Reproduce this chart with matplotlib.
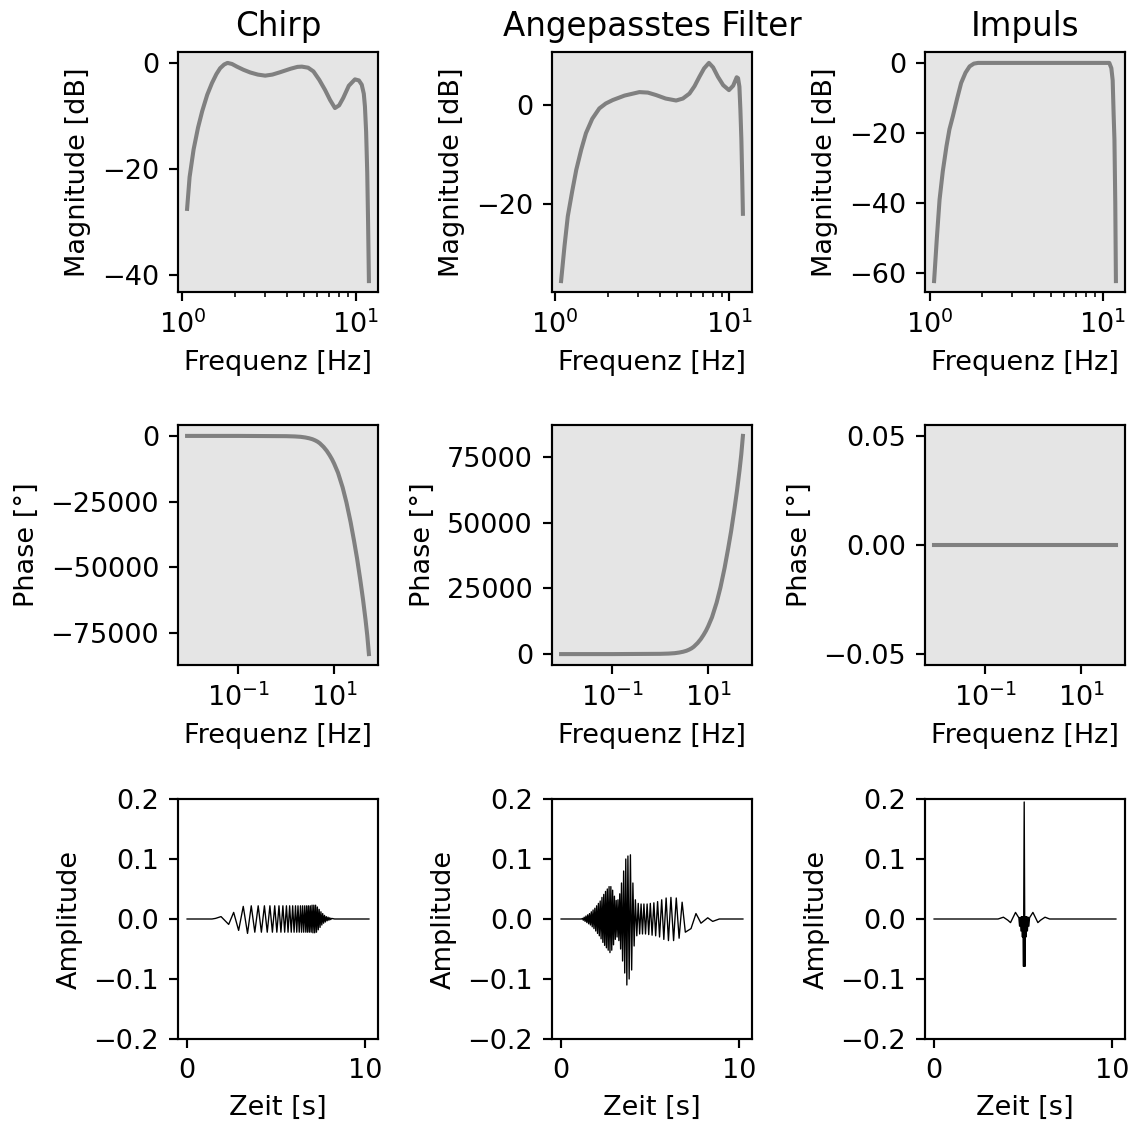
import numpy as np
import matplotlib.pyplot as plt

# --- Betragsgang (Frequenz in Hz, Betrag in dB) ---
f_mag_chirp = [1.064, 1.10, 1.16, 1.23, 1.30, 1.39, 1.48, 1.57, 1.65, 1.74, 1.82, 1.93,
               2.06, 2.25, 2.46, 2.72, 3.0, 3.3, 3.66, 4.2, 4.6, 4.88, 5.3, 5.69, 6.15,
               6.64, 7.1, 7.57, 8.0, 8.45, 9.1, 9.87, 10.4, 10.8, 11.1, 11.27, 11.45,
               11.62, 11.75, 11.88]
mag_chirp = [-27.5, -21.5, -16.3, -12.2, -9.1, -6.0, -3.8, -2.1, -1.0, -0.3, 0.0, -0.2,
             -0.7, -1.3, -1.8, -2.2, -2.4, -2.2, -1.75, -1.1, -0.75, -0.7, -0.9, -1.6, -3.2,
             -5.1, -7.0, -8.5, -8.0, -6.6, -4.3, -3.1, -3.3, -4.1, -5.8, -8.2, -13.0,
             -20.7, -30.0, -41.1]

f_mag_filter = [1.08, 1.13, 1.18, 1.25, 1.32, 1.41, 1.50, 1.63, 1.79, 1.95, 2.14, 2.5,
                3.04, 3.4, 3.79, 4.3, 4.94, 5.4, 5.89, 6.3, 6.72, 7.15, 7.62, 8.05, 8.58,
                9.2, 9.93, 10.5, 11.0, 11.2, 11.4, 11.55, 11.7, 11.82, 11.94]
mag_filter = [-35.6, -28.5, -22.5, -17.5, -13.1, -9.0, -5.7, -2.8, -0.7, 0.3, 1.0, 1.9,
              2.6, 2.5, 2.0, 1.3, 0.9, 1.3, 2.3, 3.8, 5.7, 7.4, 8.5, 7.6, 5.7,
              4.0, 3.0, 3.9, 5.6, 5.4, 3.7, -1.0, -7.0, -14.0, -22.0]

f_mag_impulse = [1.06, 1.10, 1.14, 1.19, 1.25, 1.30, 1.36, 1.44, 1.52, 1.61, 1.70, 1.80,
                 1.90, 10.9, 11.2, 11.4, 11.55, 11.67, 11.8, 11.9]
mag_impulse = [-62.4, -50.0, -39.1, -31.0, -23.8, -19.0, -15.3, -10.2, -5.7, -2.8, -1.0,
               -0.2, 0.0, 0.0, -1.5, -5.0, -15.0, -21.9, -40.0, -62.4]

# --- Phasengang (Frequenz in Hz, Phase in Grad) ---
f_phase = [0.0085, 0.1, 1, 1.5, 2, 2.5, 3, 3.5, 4, 4.5, 5, 6, 7, 8, 9, 10, 12, 15, 18,
           22, 26, 30, 35, 40, 45, 49, 53]
phase_chirp = [0, 0, -100, -200, -350, -600, -900, -1250, -1700, -2200, -2800, -4200,
               -5700, -7300, -8900, -10600, -14000, -19600, -25300, -32800, -40000,
               -46600, -54700, -62300, -69800, -75900, -82950]
phase_filter = [0, 0, 100, 200, 350, 600, 900, 1250, 1700, 2200, 2800, 4200,
                5700, 7300, 8900, 10600, 14000, 19600, 25300, 32800, 40000,
                46600, 54700, 62300, 69800, 75900, 82950]
f_phase_impulse = [0.0085, 53]
phase_impulse = [0, 0]

# --- Zeitsignale (Extremwerte: Zeit in s, Amplitude) ---
t_chirp = [0.0, 1.40, 1.60, 1.91, 2.34, 2.62, 2.90, 3.16, 3.40, 3.61, 3.81, 4.00, 4.18,
           4.35, 4.51, 4.66, 4.80, 4.93, 5.05, 5.17, 5.28, 5.39, 5.49, 5.59, 5.68, 5.77,
           5.86, 5.94, 6.02, 6.10, 6.17, 6.24, 6.31, 6.38, 6.44, 6.50, 6.56, 6.62, 6.68,
           6.73, 6.78, 6.83, 6.88, 6.93, 6.98, 7.03, 7.08, 7.13, 7.18, 7.23, 7.28, 7.33,
           7.38, 7.43, 7.48, 7.53, 7.58, 7.63, 7.68, 7.73, 7.78, 7.83, 7.88, 7.93, 7.98,
           8.03, 8.08, 8.13, 8.30, 10.23]
a_chirp = [0, 0, 0.001, 0.004, -0.009, 0.011, -0.019, 0.021, -0.024, 0.022, -0.022, 0.022,
           -0.022, 0.022, -0.022, 0.022, -0.022, 0.022, -0.022, 0.022, -0.022, 0.022,
           -0.022, 0.022, -0.022, 0.022, -0.022, 0.022, -0.022, 0.022, -0.022, 0.022,
           -0.022, 0.022, -0.022, 0.022, -0.022, 0.022, -0.022, 0.022, -0.022, 0.022,
           -0.022, 0.022, -0.022, 0.023, -0.023, 0.023, -0.023, 0.023, -0.022, 0.020,
           -0.018, 0.016, -0.014, 0.012, -0.010, 0.009, -0.007, 0.006, -0.005, 0.004,
           -0.003, 0.003, -0.002, 0.002, -0.001, 0.001, 0, 0]

t_filter = [0.0, 1.15, 1.20, 1.25, 1.30, 1.35, 1.40, 1.45, 1.50, 1.55, 1.60, 1.65, 1.70,
            1.75, 1.80, 1.85, 1.90, 1.95, 2.00, 2.05, 2.10, 2.15, 2.20, 2.25, 2.30, 2.35,
            2.40, 2.45, 2.50, 2.55, 2.60, 2.65, 2.70, 2.75, 2.80, 2.85, 2.90, 2.95, 3.00,
            3.05, 3.10, 3.15, 3.20, 3.25, 3.30, 3.35, 3.40, 3.46, 3.52, 3.58, 3.64, 3.70,
            3.76, 3.83, 3.90, 3.97, 4.04, 4.11, 4.18, 4.26, 4.34, 4.42, 4.50, 4.58, 4.66,
            4.75, 4.84, 4.93, 5.02, 5.12, 5.22, 5.32, 5.43, 5.54, 5.66, 5.78, 5.91, 6.04,
            6.18, 6.33, 6.48, 6.64, 6.81, 6.99, 7.31, 7.59, 7.87, 8.25, 8.53, 8.9, 10.23]
a_filter = [0, 0, 0.001, -0.002, 0.003, -0.004, 0.005, -0.006, 0.007, -0.008, 0.009,
            -0.010, 0.012, -0.013, 0.015, -0.016, 0.018, -0.020, 0.022, -0.024, 0.026,
            -0.028, 0.030, -0.033, 0.036, -0.039, 0.041, -0.044, 0.046, -0.048, 0.050,
            -0.052, 0.054, -0.056, 0.054, -0.052, 0.048, -0.043, 0.038, -0.034, 0.031,
            -0.030, 0.032, -0.036, 0.042, -0.050, 0.060, -0.070, 0.080, -0.090, 0.100,
            -0.110, 0.105, -0.100, 0.107, -0.085, 0.060, -0.045, 0.032, -0.028, 0.026,
            -0.025, 0.025, -0.025, 0.025, -0.025, 0.025, -0.026, 0.026, -0.027, 0.027,
            -0.028, 0.029, -0.030, 0.032, -0.034, 0.035, -0.036, 0.036, -0.036, 0.035,
            -0.032, 0.028, -0.022, -0.016, 0.009, -0.007, 0.002, -0.004, 0, 0]

t_impulse = [0.0, 3.60, 3.90, 4.15, 4.30, 4.58, 4.77, 4.81, 4.85, 4.89, 4.93, 4.97, 5.00,
             5.03, 5.07, 5.11, 5.14, 5.17, 5.21, 5.25, 5.29, 5.33, 5.37, 5.56, 5.84, 5.99,
             6.24, 6.50, 10.23]
a_impulse = [0, 0, 0.003, -0.002, -0.006, 0.011, 0.002, -0.012, 0.003, -0.020, 0.004,
             -0.030, 0.004, -0.079, 0.195, -0.079, 0.004, -0.030, 0.004, -0.020, 0.003,
             -0.012, 0.002, 0.011, -0.006, -0.002, 0.003, 0, 0]

titles = ['Chirp', 'Angepasstes Filter', 'Impuls']

W, H = 1134, 1124
DPI = 195
fig = plt.figure(figsize=(W / DPI, H / DPI), dpi=DPI)
lefts = [178, 552, 925]
tops = [52, 425, 799]


def rect(col, row):
    return [lefts[col] / W, 1 - (tops[row] + 240) / H, 200 / W, 240 / H]


mags = [(f_mag_chirp, mag_chirp), (f_mag_filter, mag_filter), (f_mag_impulse, mag_impulse)]
phases = [(f_phase, phase_chirp), (f_phase, phase_filter), (f_phase_impulse, phase_impulse)]
signals = [(t_chirp, a_chirp), (t_filter, a_filter), (t_impulse, a_impulse)]

for i in range(3):
    ax = fig.add_axes(rect(i, 0))
    ax.semilogx(mags[i][0], mags[i][1], color='gray', lw=1.5)
    ax.set_facecolor('#e5e5e5')
    ax.set_title(titles[i], fontsize=12)
    ax.set_xlabel('Frequenz [Hz]')
    ax.set_ylabel('Magnitude [dB]')

    ax = fig.add_axes(rect(i, 1))
    ax.semilogx(phases[i][0], phases[i][1], color='gray', lw=1.5)
    ax.set_facecolor('#e5e5e5')
    ax.set_xlabel('Frequenz [Hz]')
    ax.set_ylabel('Phase [°]')

    ax = fig.add_axes(rect(i, 2))
    ax.plot(signals[i][0], signals[i][1], color='black', lw=0.5)
    ax.set_ylim(-0.2, 0.2)
    ax.set_xticks([0, 10])
    ax.set_xlabel('Zeit [s]')
    ax.set_ylabel('Amplitude')

fig.savefig('out.png', dpi=DPI)
